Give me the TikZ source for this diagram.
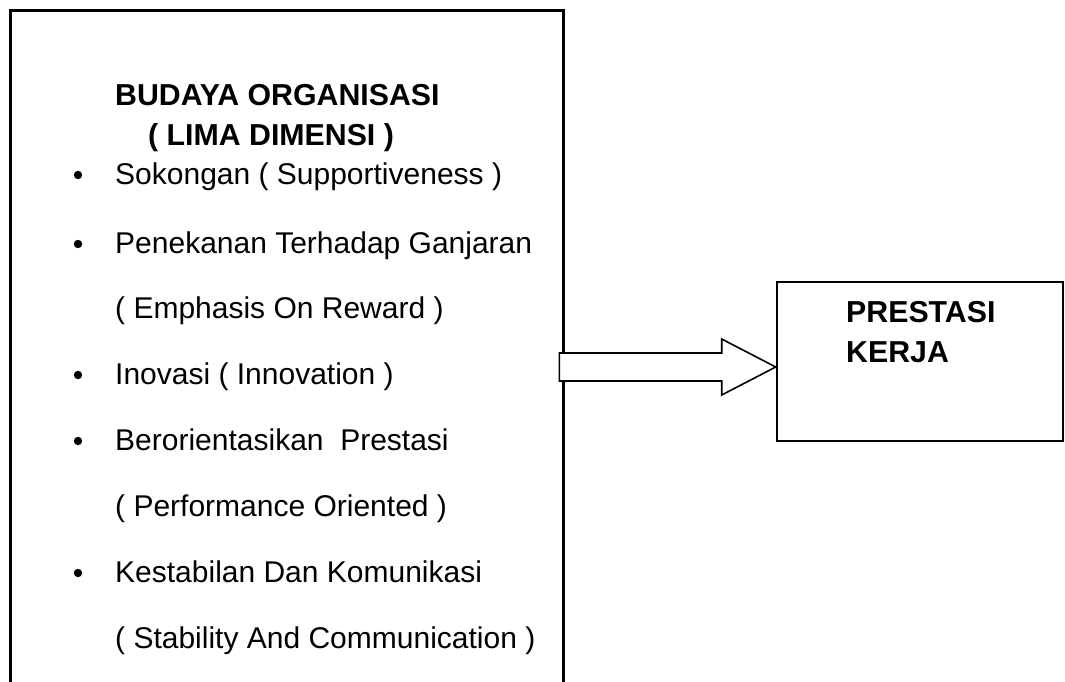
\documentclass[tikz,border=0pt]{standalone}
\usepackage{fontspec}
\setmainfont{Liberation Sans}
\usetikzlibrary{calc}
\begin{document}
\begin{tikzpicture}[x=1pt,y=-1pt,
  txt/.style={anchor=base west,inner sep=0pt,font=\fontsize{30pt}{36pt}\selectfont},
  hd/.style={txt,font=\fontsize{30.3pt}{36pt}\selectfont\bfseries},
  bul/.style={fill=black,draw=none},
  boxline/.style={line width=3pt},
  blockarrow/.style={draw=black,fill=white,line width=1.6pt,line join=miter}]
\useasboundingbox[fill=white] (0,0) rectangle (1065,681);
% left box (open at bottom, runs off the page)
\node[anchor=north west,minimum width=553pt,minimum height=700pt,inner sep=0pt] (left) at (10,10) {};
\draw[boxline] (left.south west) -- (left.north west) -- (left.north east) -- (left.south east);
% headings
\node[hd] (h1) at (115,105) {BUDAYA ORGANISASI};
\node[hd] (h2) at (148,145) {( LIMA DIMENSI )};
% items
\node[txt] (i1) at (115,184) {Sokongan ( Supportiveness )};
\node[txt] (i2) at (115,253) {Penekanan Terhadap Ganjaran};
\node[txt] (i2b) at (115,318) {( Emphasis On Reward )};
\node[txt] (i3) at (115,384) {Inovasi ( Innovation )};
\node[txt] (i4) at (115,450) {Berorientasikan\ \ Prestasi};
\node[txt] (i4b) at (115,516) {( Performance Oriented )};
\node[txt] (i5) at (115,582) {Kestabilan Dan Komunikasi};
\node[txt] (i5b) at (115,648) {( Stability And Communication )};
% bullets
\foreach \n in {i1,i2,i3,i4,i5}{
  \fill[bul] ($(\n.base west)+(-37,-9)$) circle (4.2pt);
}
% right box
\node[draw,line width=2.6pt,minimum width=286pt,minimum height=159pt,inner sep=0pt] (right) at (920,361.5) {};
\node[hd] (p1) at (846,322) {PRESTASI};
\node[hd] (p2) at (846,362) {KERJA};
% block arrow from left box to right box
\path (left.north east) ++(-4,357) coordinate (tail);
\path (right.west |- tail) coordinate (tip);
\draw[blockarrow] ($(tail)+(0,-14)$) -- ($(tip)+(-54,-14)$) -- ($(tip)+(-54,-28)$) -- (tip)
  -- ($(tip)+(-54,28)$) -- ($(tip)+(-54,14)$) -- ($(tail)+(0,14)$) -- cycle;
\end{tikzpicture}
\end{document}
